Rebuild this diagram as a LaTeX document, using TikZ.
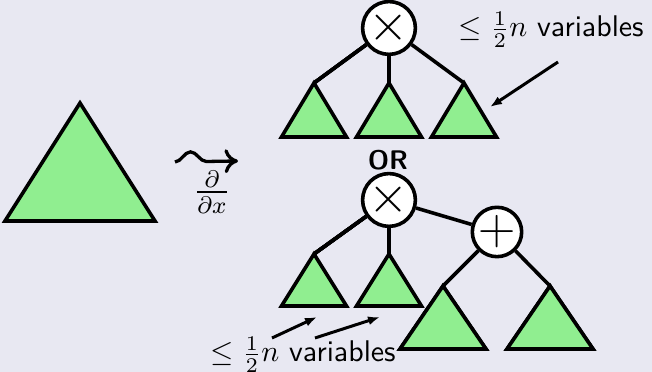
\documentclass[tikz,border=0pt]{standalone}
\usepackage{amsmath,amssymb}
\usepackage{tikz}
\usetikzlibrary{arrows.meta,positioning,decorations.pathmorphing}
\renewcommand{\familydefault}{\sfdefault}
\definecolor{slidebg}{RGB}{232,232,242}
\definecolor{leafgreen}{RGB}{144,238,144}
% apex name, apex x, apex y, base width, height
\newcommand{\subtree}[5]{%
  \coordinate (#1) at (#2,#3);
  \draw[tri] (#1) -- ++(-#4/2,-#5) -- ++(#4,0) -- cycle;}

\begin{document}
\begin{tikzpicture}[x=0.1175cm,y=0.1175cm,
    op/.style={circle,draw,fill=white,very thick,minimum size=13.5pt,inner sep=0pt,font=\LARGE},
    tri/.style={draw,fill=leafgreen,very thick,line join=miter},
    edge/.style={very thick},
    pointer/.style={-{Latex[length=4pt,width=3pt]},line width=1pt},
    squig/.style={decorate,decoration={snake,amplitude=3.3pt,segment length=16.7pt,post length=4pt},
      -{Computer Modern Rightarrow[length=4.5pt,width=8pt]},line width=1.1pt},
    lbl/.style={inner sep=0pt,anchor=base west}]
  \fill[slidebg] (0,0) rectangle (65.2,37.2);
  \useasboundingbox (0,0) rectangle (65.2,37.2);

  % the whole polynomial
  \subtree{big}{8.0}{26.9}{15}{11.8}

  % derivative
  \coordinate (w0) at (17.5,21.0);
  \coordinate (w1) at (23.8,21.1);
  \draw[squig] (w0) -- (w1);
  \node (ddx) at (21.2,18.0) {\large$\frac{\partial}{\partial x}$};

  % product gate on top
  \node[op] (tm) at (38.9,34.4) {$\times$};
  \foreach \x/\n in {31.4/ta,38.9/tb,46.4/tc}
    \subtree{\n}{\x}{28.9}{6.5}{5.4}
  \draw[edge] (tm) -- (ta);
  \draw[edge] (tm) -- (tb);
  \draw[edge] (tm) -- (tc);

  \node[font=\small\bfseries] (or) at (38.8,21.2) {OR};

  % product of a sum below
  \node[op] (bm) at (38.9,17.2) {$\times$};
  \node[op] (bp) at (49.7,14.0) {$+$};
  \foreach \x/\n in {31.4/ba,38.9/bb}
    \subtree{\n}{\x}{11.8}{6.5}{5.2}
  \foreach \x/\n in {44.3/bc,55.0/bd}
    \subtree{\n}{\x}{8.6}{8.6}{6.3}
  \draw[edge] (bm) -- (ba);
  \draw[edge] (bm) -- (bb);
  \draw[edge] (bm) -- (bp);
  \draw[edge] (bp) -- (bc);
  \draw[edge] (bp) -- (bd);

  % labels
  \node[lbl] (topvar) at (45.8,33.5) {$\leq \frac{1}{2}n$ variables};
  \coordinate (p0) at (55.8,31.0);
  \coordinate (p1) at (49.0,26.5);
  \draw[pointer] (p0) -- (p1);

  \node[lbl] (botvar) at (21.0,1.0) {$\leq \frac{1}{2}n$ variables};
  \coordinate (q0) at (27.2,3.4);
  \coordinate (q1) at (31.7,5.5);
  \coordinate (q2) at (31.5,3.4);
  \coordinate (q3) at (38.0,5.5);
  \draw[pointer] (q0) -- (q1);
  \draw[pointer] (q2) -- (q3);
\end{tikzpicture}
\end{document}
